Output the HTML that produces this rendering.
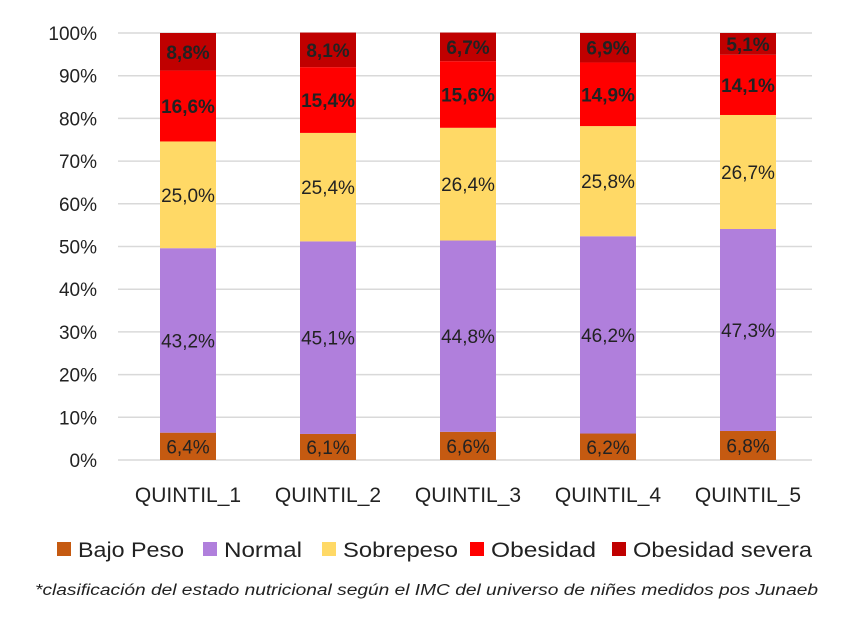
<!DOCTYPE html>
<html><head><meta charset="utf-8">
<style>
body{margin:0;background:#fff;font-family:"Liberation Sans",sans-serif;}
svg text{font-family:"Liberation Sans",sans-serif;}
</style></head>
<body>
<svg id="chart" width="850" height="622" xmlns="http://www.w3.org/2000/svg"></svg>
<script>
const categories = ["QUINTIL_1","QUINTIL_2","QUINTIL_3","QUINTIL_4","QUINTIL_5"];
const seriesNames = ["Bajo Peso","Normal","Sobrepeso","Obesidad","Obesidad severa"];
const bajoPeso = [6.4,6.1,6.6,6.2,6.8];
const normal = [43.2,45.1,44.8,46.2,47.3];
const sobrepeso = [25.0,25.4,26.4,25.8,26.7];
const obesidad = [16.6,15.4,15.6,14.9,14.1];
const obesidadSevera = [8.8,8.1,6.7,6.9,5.1];
const yTicks = [0,10,20,30,40,50,60,70,80,90,100];
const colors = ["#c55a11","#b07fdc","#ffd966","#ff0000","#c00000"];
const series = [bajoPeso,normal,sobrepeso,obesidad,obesidadSevera];
const NS="http://www.w3.org/2000/svg";
const svg=document.getElementById('chart');
const y0=460,y1=33,xL=118,xR=812;
const y=v=>y0-(v/100)*(y0-y1);
const x=i=>188+i*140;
const bw=56;
function el(t,a,p){const e=document.createElementNS(NS,t);for(const k in a)e.setAttribute(k,a[k]);(p||svg).appendChild(e);return e;}
const fmt=v=>v.toFixed(1).replace('.',',')+'%';
yTicks.forEach(t=>{
  const l=el('line',{x1:xL,x2:xR,y1:y(t),y2:y(t),stroke:'#d9d9d9','stroke-width':1.5});
  
  
  const tx=el('text',{x:97,y:y(t)+7,'text-anchor':'end','font-size':19,fill:'#222'});
  tx.textContent=t+'%';
  
  
});
categories.forEach((c,i)=>{
  let cum=0;
  series.forEach((s,j)=>{
    const v=s[i];
    const r=el('rect',{x:x(i)-bw/2,y:y(cum+v),width:bw,height:y(cum)-y(cum+v),fill:colors[j]});
    
    
    const t=el('text',{x:x(i),y:(y(cum)+y(cum+v))/2+7,'text-anchor':'middle','font-size':19,fill:'#222','font-weight':j>=3?'bold':'normal'});
    t.textContent=fmt(v);
    
    
    cum+=v;
  });
  const cl=el('text',{x:x(i),y:502,'text-anchor':'middle','font-size':21,fill:'#222'});
  cl.textContent=c;
  
  
});
const legendX=[57,203,322,470,612];
const legendW=[106,78,115,105,179];
seriesNames.forEach((n,j)=>{
  const g=el('g',{});
  
  
  el('rect',{x:legendX[j],y:542,width:14,height:14,fill:colors[j]},g);
  const t=el('text',{x:legendX[j]+21,y:557,'font-size':21,fill:'#222',textLength:legendW[j],lengthAdjust:'spacingAndGlyphs'},g);
  t.textContent=n;
});
const fn=el('text',{x:35,y:595,'font-size':15.5,'font-style':'italic',fill:'#222',textLength:783,lengthAdjust:'spacingAndGlyphs'});
fn.textContent='*clasificación del estado nutricional según el IMC del universo de niñes medidos pos Junaeb';


</script>
</body></html>
